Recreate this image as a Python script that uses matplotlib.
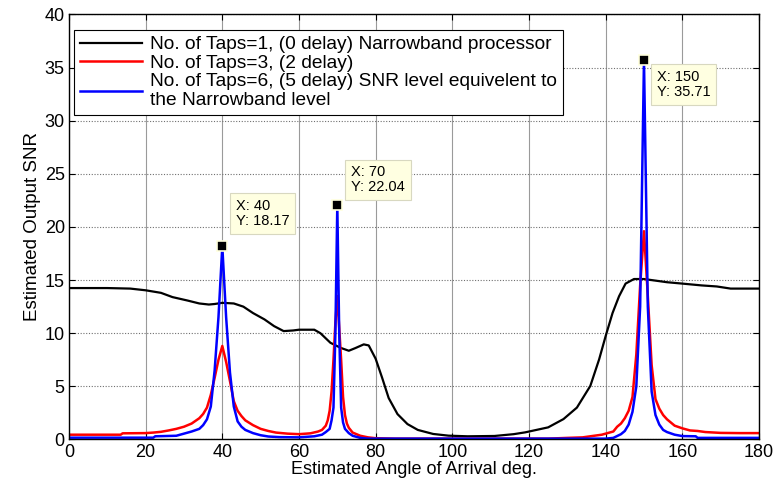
import numpy as np
import matplotlib
matplotlib.use("Agg")
import matplotlib.pyplot as plt

plt.rcParams['font.family'] = ['Liberation Sans', 'DejaVu Sans']

# black: 1 tap (narrowband)
x_tap1 = [0, 10, 16, 20, 24, 27, 31, 34, 36.5, 38, 40, 43, 45.5, 48, 51, 53.5, 56, 58.5, 60, 64,
          65.6, 68.2, 70.9, 73, 74.7, 76.9, 78.2, 80, 81.7, 83.4, 85.7, 88.3, 91, 95, 99, 104, 111,
          116, 119, 125, 129, 132.5, 136, 138.3, 140, 141.8, 143.5, 145.2, 147.4, 150, 152, 156, 160,
          165, 169, 172.6, 176, 180]
snr_tap1 = [14.25, 14.25, 14.2, 14.04, 13.8, 13.4, 13.07, 12.8, 12.7, 12.75, 12.86, 12.8, 12.5, 11.9,
            11.3, 10.67, 10.2, 10.26, 10.33, 10.33, 10.0, 9.1, 8.62, 8.35, 8.6, 8.95, 8.85, 7.6, 5.8,
            3.9, 2.39, 1.45, 0.9, 0.52, 0.36, 0.3, 0.33, 0.5, 0.67, 1.14, 1.92, 3.0, 5.04, 7.54, 9.73,
            11.9, 13.48, 14.67, 15.1, 15.1, 15.0, 14.8, 14.67, 14.5, 14.4, 14.2, 14.2, 14.2]

# red: 3 taps
x_tap3 = [0, 13.5, 14, 20, 22, 24, 26, 28, 30, 32, 33, 34, 35, 36, 37, 38, 39, 40, 41, 42, 43, 44, 45,
          46, 48, 50, 52, 54, 57, 60, 63, 65, 66, 67, 67.5, 68, 68.5, 69, 69.5, 70, 70.5, 71, 71.5, 72,
          72.5, 73, 74, 76, 78, 80, 85, 125, 130, 134, 137, 139, 142, 143, 144, 145, 146, 147, 148, 149,
          150, 151, 152, 153, 154, 155, 156, 157, 158, 160, 162, 164, 166, 170, 175, 180]
snr_tap3 = [0.45, 0.45, 0.58, 0.6, 0.65, 0.72, 0.85, 1.0, 1.2, 1.5, 1.75, 2.0, 2.4, 3.0, 4.2, 5.8, 7.5,
            8.8, 7.3, 5.5, 3.6, 2.7, 2.2, 1.8, 1.35, 1.0, 0.8, 0.65, 0.55, 0.5, 0.58, 0.75, 0.9, 1.3,
            1.8, 2.7, 4.5, 7.5, 11.0, 13.5, 10.5, 7.5, 4.0, 2.3, 1.5, 1.1, 0.65, 0.35, 0.2, 0.12, 0.08,
            0.08, 0.15, 0.2, 0.35, 0.45, 0.75, 1.2, 1.5, 2.0, 2.7, 4.0, 8.0, 14.5, 19.6, 13.5, 7.0,
            3.8, 2.9, 2.3, 1.9, 1.6, 1.3, 1.05, 0.85, 0.8, 0.7, 0.62, 0.6, 0.6]

# blue: 6 taps
x_tap6 = [0, 22, 22.5, 28, 30, 32, 34, 35, 36, 37, 38, 39, 40, 41, 42, 43, 44, 45, 46, 48, 50, 52, 55,
          60, 64, 66, 67, 68, 68.5, 69, 69.5, 70, 70.5, 71, 71.5, 72, 73, 74, 76, 78, 140, 142, 144,
          145, 146, 147, 148, 149, 150, 151, 152, 153, 154, 155, 156, 158, 160, 163.5, 164, 180]
snr_tap6 = [0.17, 0.17, 0.3, 0.35, 0.55, 0.75, 1.0, 1.35, 1.9, 3.1, 6.5, 11.5, 18.17, 11.5, 6.3, 3.1,
            1.7, 1.2, 0.9, 0.6, 0.4, 0.28, 0.22, 0.2, 0.3, 0.45, 0.7, 1.0, 1.8, 3.0, 10.0, 22.04, 10.0,
            3.0, 1.6, 1.0, 0.6, 0.35, 0.15, 0.08, 0.08, 0.15, 0.5, 0.8, 1.4, 2.6, 5.0, 12.5, 35.71,
            12.5, 4.5, 2.3, 1.4, 0.9, 0.7, 0.45, 0.32, 0.3, 0.15, 0.15]

labels = ['No. of Taps=1, (0 delay) Narrowband processor',
          'No. of Taps=3, (2 delay)',
          'No. of Taps=6, (5 delay) SNR level equivelent to\nthe Narrowband level']

# data tips
tip_x = [40, 70, 150]
tip_y = [18.17, 22.04, 35.71]
tip_offsets = [(9.6, 13.4, 'bottom'), (10.0, 7.8, 'bottom'), (9.4, -7.3, 'top')]

fig = plt.figure(figsize=(7.74, 4.83), dpi=100)
ax = fig.add_axes([0.0891, 0.0901, 0.8915, 0.8800])

ax.plot(x_tap1, snr_tap1, color='black', lw=1.6, label=labels[0])
ax.plot(x_tap3, snr_tap3, color='red', lw=1.8, label=labels[1])
ax.plot(x_tap6, snr_tap6, color='blue', lw=1.8, label=labels[2])

ax.set_xlim(0, 180)
ax.set_ylim(0, 40)
ax.set_xticks(np.arange(0, 181, 20))
ax.set_yticks(np.arange(0, 41, 5))
ax.tick_params(direction='in', top=True, right=True, length=4, labelsize=13, width=0.8, pad=3)
ax.xaxis.grid(True, color='#9a9a9a', lw=0.8, ls='-')
ax.yaxis.grid(True, color='#707070', lw=0.8, ls=(0, (1, 1.5)))
ax.set_axisbelow(True)
for s in ax.spines.values():
    s.set_linewidth(1.0)

ax.set_xlabel('Estimated Angle of Arrival deg.', fontsize=13, labelpad=0)
ax.set_ylabel('Estimated Output SNR', fontsize=13.5, labelpad=3)

leg = ax.legend(loc='upper left', bbox_to_anchor=(0.008, 0.963), fontsize=13.8, frameon=True,
                fancybox=False, edgecolor='black', framealpha=1, borderaxespad=0,
                handlelength=3.2, handletextpad=0.45, labelspacing=0.05, borderpad=0.3)
leg.get_frame().set_linewidth(0.8)

for tx, ty, (dx, dy, va) in zip(tip_x, tip_y, tip_offsets):
    ax.plot(tx, ty, 's', ms=7, mfc='black', mec='#ffffdd', mew=1.2, zorder=6)
    ax.annotate(f'X: {tx}\nY: {ty:.2f}', xy=(tx, ty), xytext=(dx, dy), textcoords='offset points',
                ha='left', va=va, fontsize=10.5, linespacing=1.1, zorder=7,
                bbox=dict(boxstyle='square,pad=0.4', fc='#ffffe1', ec='#d8d8c0', lw=0.8))

fig.savefig('out.png', dpi=100)
